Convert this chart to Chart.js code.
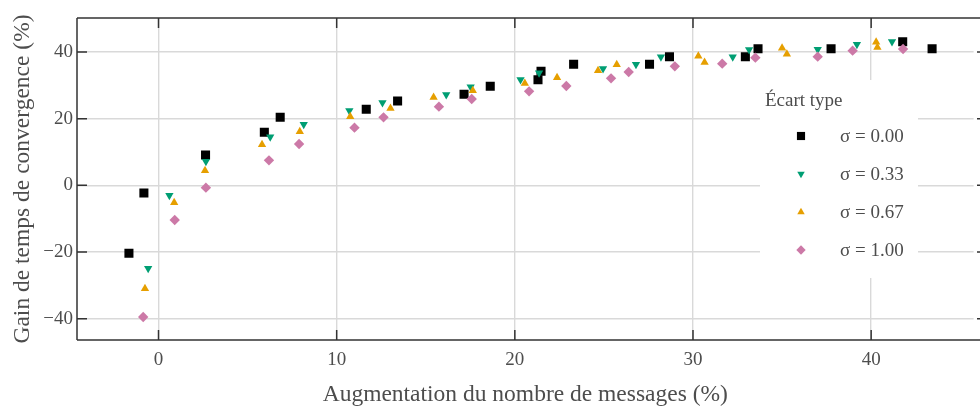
<!DOCTYPE html>
<html lang="fr">
<head>
  <meta charset="UTF-8">
  <title>Gain de temps de convergence</title>
  <script src="https://cdn.jsdelivr.net/npm/chart.js"></script>
  <style>
    body {
      margin: 0;
      padding: 0;
      background: #fff;
    }
    .chart-box {
      width: 980px;
      height: 408px;
    }
  </style>
</head>
<body>
  <div class="chart-box">
    <canvas id="gainChart" width="980" height="408"></canvas>
  </div>

  <script>
    // valeurs
    const xTicks = [0, 10, 20, 30, 40];
    const yTicks = [-40, -20, 0, 20, 40];
    const seriesLabels = ['σ = 0.00', 'σ = 0.33', 'σ = 0.67', 'σ = 1.00'];

    const sigma000X = [-1.66, -0.82, 2.64, 5.94, 6.83, 11.66, 13.42, 17.15, 18.62, 21.30, 21.47, 23.30, 27.56, 28.68, 32.94, 33.65, 37.75, 41.77, 43.42];
    const sigma000Y = [-20.4, -2.3, 9.1, 15.9, 20.4, 22.8, 25.3, 27.3, 29.7, 31.7, 34.2, 36.3, 36.3, 38.6, 38.6, 41.0, 41.0, 43.1, 41.0];

    const sigma033X = [-0.58, 0.61, 2.66, 6.27, 8.15, 10.71, 12.57, 16.15, 17.52, 20.32, 21.36, 24.95, 26.80, 28.20, 32.23, 33.15, 37.00, 39.20, 41.17];
    const sigma033Y = [-24.9, -3.0, 7.2, 14.5, 18.3, 22.4, 24.8, 27.2, 29.5, 31.7, 33.7, 35.0, 36.3, 38.5, 38.5, 40.7, 40.8, 42.3, 43.1];

    const sigma067X = [-0.76, 0.88, 2.61, 5.81, 7.93, 10.76, 13.02, 15.44, 17.64, 20.56, 22.37, 24.67, 25.72, 30.30, 30.65, 35.00, 35.27, 40.28, 40.35];
    const sigma067Y = [-31.0, -5.2, 4.4, 12.2, 16.1, 20.6, 23.1, 26.4, 28.4, 30.6, 32.3, 34.4, 36.2, 38.8, 36.9, 41.2, 39.4, 43.0, 41.4];

    const sigma100X = [-0.86, 0.91, 2.66, 6.20, 7.89, 11.00, 12.63, 15.74, 17.58, 20.80, 22.89, 25.40, 26.39, 28.98, 31.64, 33.50, 37.00, 38.96, 41.79];
    const sigma100Y = [-39.5, -10.4, -0.7, 7.5, 12.4, 17.3, 20.4, 23.6, 25.9, 28.2, 29.8, 32.1, 34.0, 35.7, 36.5, 38.3, 38.6, 40.4, 40.9];

    const textColor = '#4D4D4D';
    const frameColor = '#333333';
    const gridColor = '#D9D9D9';
    const serif = "'Liberation Serif', 'DejaVu Serif', serif";

    function toPoints(xs, ys) {
      return xs.map((x, i) => ({ x: x, y: ys[i] }));
    }

    // signe moins typographique
    function fmtTick(v) {
      return String(v).replace('-', '\u2212');
    }

    const datasets = [
      { label: seriesLabels[0], data: toPoints(sigma000X, sigma000Y), backgroundColor: '#000000', pointStyle: 'rect', pointRadius: 6.4, pointRotation: 0, order: 4 },
      { label: seriesLabels[1], data: toPoints(sigma033X, sigma033Y), backgroundColor: '#009E73', pointStyle: 'triangle', pointRadius: 4.8, pointRotation: 180, order: 3 },
      { label: seriesLabels[2], data: toPoints(sigma067X, sigma067Y), backgroundColor: '#E69F00', pointStyle: 'triangle', pointRadius: 4.8, pointRotation: 0, order: 2 },
      { label: seriesLabels[3], data: toPoints(sigma100X, sigma100Y), backgroundColor: '#CC79A7', pointStyle: 'rectRot', pointRadius: 5.2, pointRotation: 0, order: 1 }
    ];
    datasets.forEach(ds => {
      ds.borderColor = ds.backgroundColor;
      ds.borderWidth = 0;
      ds.pointBorderWidth = 0;
      ds.pointHoverRadius = ds.pointRadius;
    });

    // cadre + graduations intérieures (style ggplot)
    const framePlugin = {
      id: 'frame',
      afterDraw(chart) {
        const { ctx, chartArea: a, scales } = chart;
        ctx.save();
        ctx.strokeStyle = frameColor;
        ctx.lineWidth = 1.5;
        ctx.beginPath();
        ctx.moveTo(a.left, a.top); ctx.lineTo(chart.width, a.top);
        ctx.moveTo(a.left, a.bottom); ctx.lineTo(chart.width, a.bottom);
        ctx.moveTo(a.left, a.top); ctx.lineTo(a.left, a.bottom);
        scales.x.ticks.forEach(t => {
          const px = scales.x.getPixelForValue(t.value);
          ctx.moveTo(px, a.top); ctx.lineTo(px, a.top + 10);
          ctx.moveTo(px, a.bottom); ctx.lineTo(px, a.bottom - 10);
        });
        scales.y.ticks.forEach(t => {
          const py = scales.y.getPixelForValue(t.value);
          ctx.moveTo(a.left, py); ctx.lineTo(a.left + 10, py);
          ctx.moveTo(chart.width, py); ctx.lineTo(chart.width - 3, py);
        });
        ctx.stroke();
        ctx.restore();
      }
    };

    // légende dans la zone du graphique
    const legendPlugin = {
      id: 'insideLegend',
      afterDatasetsDraw(chart) {
        const ctx = chart.ctx;
        const boxX = 760, boxY = 80, boxW = 158, boxH = 198;
        ctx.save();
        ctx.fillStyle = '#FFFFFF';
        ctx.fillRect(boxX, boxY, boxW, boxH);
        ctx.fillStyle = textColor;
        ctx.font = '19px ' + serif;
        ctx.textBaseline = 'middle';
        ctx.textAlign = 'left';
        ctx.fillText('Écart type', boxX + 5, boxY + 21);
        chart.data.datasets.forEach((ds, i) => {
          const y = boxY + 56 + i * 38;
          ctx.fillStyle = ds.backgroundColor;
          Chart.helpers.drawPoint(ctx, {
            pointStyle: ds.pointStyle,
            radius: ds.pointRadius * 0.9,
            rotation: ds.pointRotation,
            borderWidth: 0
          }, boxX + 41, y);
          ctx.fillStyle = textColor;
          ctx.fillText(ds.label, boxX + 80, y + 1);
        });
        ctx.restore();
      }
    };

    new Chart(document.getElementById('gainChart'), {
      type: 'scatter',
      data: { datasets: datasets },
      options: {
        responsive: false,
        animation: false,
        layout: { padding: { top: 18, right: 1, left: 0, bottom: 0 } },
        plugins: {
          legend: { display: false },
          tooltip: { enabled: false }
        },
        scales: {
          x: {
            type: 'linear',
            min: -4.575,
            max: 45.75,
            afterBuildTicks: s => { s.ticks = xTicks.map(v => ({ value: v })); },
            afterFit: s => { s.height = 68; },
            grid: { color: gridColor, lineWidth: 1.4, drawTicks: false },
            border: { display: false },
            ticks: { color: textColor, font: { family: serif, size: 19 }, padding: 9, maxRotation: 0, callback: fmtTick },
            title: {
              display: true,
              text: 'Augmentation du nombre de messages (%)',
              color: textColor,
              font: { family: serif, size: 23.5, lineHeight: 1 },
              padding: { top: 0, bottom: 1 }
            }
          },
          y: {
            type: 'linear',
            min: -46.4,
            max: 50.2,
            afterBuildTicks: s => { s.ticks = yTicks.map(v => ({ value: v })); },
            afterFit: s => { s.width = 77; },
            grid: { color: gridColor, lineWidth: 1.4, drawTicks: false },
            border: { display: false },
            ticks: { color: textColor, font: { family: serif, size: 19 }, padding: 4, callback: fmtTick },
            title: {
              display: true,
              text: 'Gain de temps de convergence (%)',
              color: textColor,
              font: { family: serif, size: 23.5, lineHeight: 1 },
              padding: { top: 11, bottom: 0 }
            }
          }
        }
      },
      plugins: [legendPlugin, framePlugin]
    });
  </script>
</body>
</html>
